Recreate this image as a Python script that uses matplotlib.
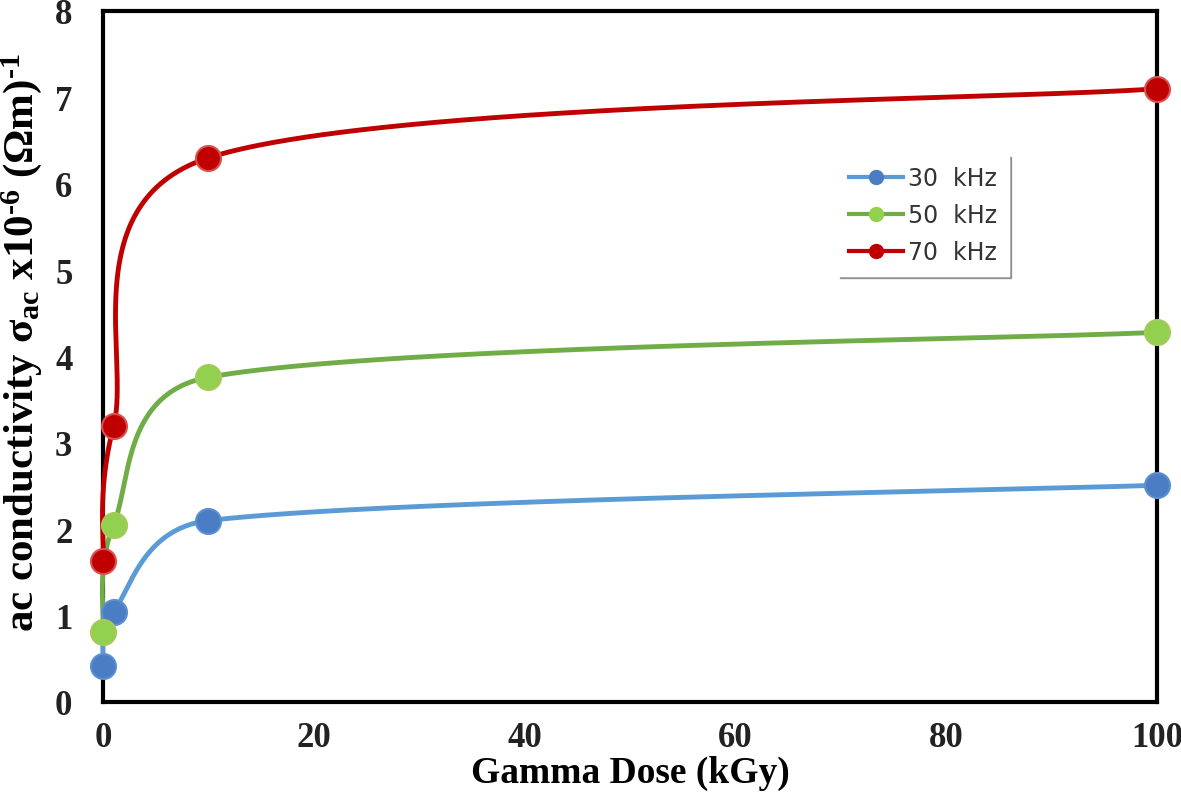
import numpy as np
import matplotlib
matplotlib.use("Agg")
import matplotlib.pyplot as plt

plt.rcParams["mathtext.fontset"] = "custom"
plt.rcParams["mathtext.rm"] = "Liberation Serif:bold"
plt.rcParams["mathtext.it"] = "Liberation Serif:bold"
plt.rcParams["mathtext.bf"] = "Liberation Serif:bold"

dose = [0, 1, 10, 100]
s30 = [0.42, 1.04, 2.10, 2.51]
s50 = [0.81, 2.05, 3.76, 4.28]
s70 = [1.63, 3.19, 6.30, 7.10]
labels = ["30  kHz", "50  kHz", "70  kHz"]
xticks = [0, 20, 40, 60, 80, 100]
yticks = [0, 1, 2, 3, 4, 5, 6, 7, 8]

fig = plt.figure(figsize=(11.81, 8.04), dpi=100)
ax = fig.add_axes([103/1181, 1-703/804, (1157-103)/1181, (703-12)/804])
ax.set_xlim(0, 100)
ax.set_ylim(0, 8)

def smooth(xs, ys, n=200):
    # Excel-like Bezier smoothing computed in display space, handle length limited
    pts = ax.transData.transform(np.column_stack([xs, ys]))
    P = [pts[0]] + list(pts) + [pts[-1]]
    out = []
    t = np.linspace(0, 1, n)[:, None]
    for i in range(1, len(P) - 2):
        p0, p1 = P[i], P[i + 1]
        seg = np.linalg.norm(p1 - p0)
        d1 = P[i + 1] - P[i - 1]
        d2 = P[i + 2] - P[i]
        n1 = np.linalg.norm(d1)
        n2 = np.linalg.norm(d2)
        h1 = min(n1 / 6, seg / 2)
        h2 = min(n2 / 6, seg / 2)
        c1 = p0 + (d1 / n1 * h1 if n1 > 0 else 0)
        c2 = p1 - (d2 / n2 * h2 if n2 > 0 else 0)
        b = ((1 - t) ** 3) * p0 + 3 * ((1 - t) ** 2) * t * c1 + 3 * (1 - t) * t ** 2 * c2 + t ** 3 * p1
        out.append(b)
    out = np.vstack(out)
    return ax.transData.inverted().transform(out)

series = [
    (s30, "#5B9BD5", "#4A7DC4", "#5B8FD0"),
    (s50, "#70AD47", "#92D050", "#A5C95A"),
    (s70, "#C00000", "#C00000", "#D95050"),
]
handles = []
for (ys, lc, mc, me), lab in zip(series, labels):
    c = smooth(dose, ys)
    ax.plot(c[:, 0], c[:, 1], color=lc, lw=3.5, solid_capstyle="round", zorder=3, clip_on=False)
    ax.plot(dose, ys, ls="none", marker="o", ms=18, mfc=mc, mec=me, mew=1.5, zorder=4, clip_on=False)
    h, = ax.plot([], [], color=lc, lw=3, marker="o", ms=10, mfc=mc, mec=mc, label=lab)
    handles.append(h)

for sp in ax.spines.values():
    sp.set_linewidth(3)
    sp.set_color("black")
ax.tick_params(length=0)
ax.set_xticks(xticks)
ax.set_yticks(yticks)
for lab in ax.get_xticklabels() + ax.get_yticklabels():
    lab.set_fontfamily("Liberation Serif")
    lab.set_fontweight("bold")
    lab.set_fontsize(25)
    lab.set_color("#222222")
ax.tick_params(axis="y", pad=22)
ax.tick_params(axis="x", pad=14)

ax.set_xlabel("Gamma Dose (kGy)", fontfamily="Liberation Serif", fontweight="bold", fontsize=27, labelpad=0)
fig.text(22/1181, 1 - 343/804,
         r"ac conductivity $\sigma_{ac}$ x10$^{\text{-6}}$ ($\Omega$m)$^{\text{-1}}$",
         rotation=90, ha="center", va="center",
         fontfamily="Liberation Serif", fontweight="bold", fontsize=31)

leg = ax.legend(handles=handles, loc="upper left", bbox_to_anchor=(0.685, 0.81),
                prop={"family": "DejaVu Sans", "size": 17}, frameon=True, fancybox=False,
                shadow=True, edgecolor="white", handlelength=2.3, handletextpad=0.2,
                labelspacing=0.55, borderpad=0.5)
for t in leg.get_texts():
    t.set_color("#333333")

fig.savefig("out.png", dpi=100)
